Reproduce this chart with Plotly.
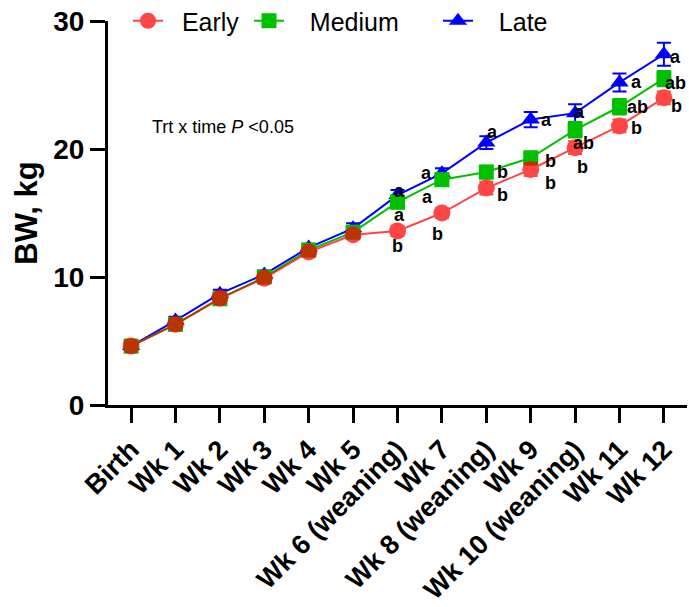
import plotly.graph_objects as go

categories = ["Birth", "Wk 1", "Wk 2", "Wk 3", "Wk 4", "Wk 5", "Wk 6 (weaning)", "Wk 7",
              "Wk 8 (weaning)", "Wk 9", "Wk 10 (weaning)", "Wk 11", "Wk 12"]

early = [4.6, 6.3, 8.35, 9.9, 11.95, 13.3, 13.6, 15.0, 16.95, 18.4, 20.1, 21.8, 24.0]
medium = [4.6, 6.3, 8.3, 10.0, 12.1, 13.5, 15.85, 17.6, 18.2, 19.3, 21.5, 23.3, 25.5]
late = [4.6, 6.6, 8.7, 10.2, 12.3, 13.8, 16.4, 18.1, 20.5, 22.3, 22.8, 25.2, 27.4]

early_se = [0.2, 0.3, 0.3, 0.3, 0.3, 0.3, 0.4, 0.4, 0.5, 0.5, 0.5, 0.5, 0.5]
medium_se = [0.2, 0.3, 0.3, 0.3, 0.3, 0.4, 0.5, 0.5, 0.5, 0.5, 0.6, 0.6, 0.6]
late_se = [0.2, 0.3, 0.3, 0.3, 0.3, 0.4, 0.4, 0.4, 0.5, 0.6, 0.7, 0.7, 0.9]

# significance letters (index -> letter)
early_letters = {6: "b", 7: "b", 8: "b", 9: "b", 10: "b", 11: "b", 12: "b"}
medium_letters = {6: "a", 7: "a", 8: "b", 9: "b", 10: "ab", 11: "ab", 12: "ab"}
late_letters = {6: "a", 7: "a", 8: "a", 9: "a", 10: "a", 11: "a", 12: "a"}

# pixel offsets of letters relative to their marker (dx right, dy down)
early_off = {6: (0, 15), 7: (-4, 21), 8: (16, 7), 9: (20, 14), 10: (7, 19), 11: (17, 2), 12: (13, 8)}
medium_off = {6: (2, 13), 7: (-14, 17), 8: (16, 0), 9: (20, 3), 10: (8, 13), 11: (18, 0), 12: (12, 4)}
late_off = {6: (2, -4), 7: (-15, 0), 8: (6, -11), 9: (16, 0), 10: (4, -1), 11: (17, 0), 12: (12, 3)}

FONT = "Liberation Sans, Arial, sans-serif"
NB = "\u00a0"
x = list(range(len(categories)))

fig = go.Figure()

def add(name, y, se, color, symbol, size, legend, opacity=1.0):
    fig.add_trace(go.Scatter(
        x=x, y=y, name=name, mode="lines+markers",
        line=dict(color=color, width=2),
        marker=dict(color=color, symbol=symbol, size=size, line=dict(width=0)),
        error_y=dict(type="data", array=se, color=color, thickness=2, width=7),
        opacity=opacity, legend=legend, showlegend=True,
    ))

add(NB * 3 + "Late", late, late_se, "#0000FF", "triangle-up", 16, "legend3")
add(NB * 3 + "Medium", medium, medium_se, "#00C000", "square", 15, "legend2")
add(NB * 2 + "Early", early, early_se, "#FF0000", "circle", 17, "legend", opacity=0.72)

annotations = []
for letters, off, vals in [(early_letters, early_off, early),
                           (medium_letters, medium_off, medium),
                           (late_letters, late_off, late)]:
    for i, t in letters.items():
        dx, dy = off[i]
        annotations.append(dict(x=i, y=vals[i], xref="x", yref="y", text=t, showarrow=False,
                                xshift=dx, yshift=-dy,
                                font=dict(family=FONT, size=18, color="black", weight="bold")))

annotations.append(dict(x=(150 - 108) / 579, y=(405 - 127) / 384, xref="paper", yref="paper",
                        xanchor="left", yanchor="middle",
                        text="Trt x time <i>P</i> <0.05", showarrow=False,
                        font=dict(family=FONT, size=18, color="black")))

PL, PW, PT, PH = 108, 579, 21, 384
W, H = 689, 607

def lx(px):
    return (px - PL) / PW

legend_common = dict(orientation="h", yanchor="middle", y=1.0, xanchor="left",
                     font=dict(family=FONT, size=25, color="black"),
                     bgcolor="rgba(0,0,0,0)", borderwidth=0)

fig.update_layout(
    width=W, height=H,
    showlegend=True,
    margin=dict(l=PL, r=W - PL - PW, t=PT, b=H - PT - PH, autoexpand=False),
    plot_bgcolor="white", paper_bgcolor="white",
    annotations=annotations,
    legend=dict(x=lx(128), **legend_common),
    legend2=dict(x=lx(249), **legend_common),
    legend3=dict(x=lx(438), **legend_common),
    xaxis=dict(
        range=[-0.52, 12.52], tickmode="array", tickvals=x, ticktext=categories,
        tickangle=-45, ticks="outside", ticklen=15, tickwidth=3, tickcolor="black",
        showline=True, linecolor="black", linewidth=3, showgrid=False, zeroline=False,
        automargin=False, ticklabeloverflow="allow",
        tickfont=dict(family=FONT, size=27, color="black", weight="bold"),
    ),
    yaxis=dict(
        range=[0, 30], tickvals=[0, 10, 20, 30], ticks="outside", ticklen=15, tickwidth=3,
        tickcolor="black", showline=True, linecolor="black", linewidth=3, showgrid=False,
        zeroline=False, automargin=False, ticklabeloverflow="allow",
        tickfont=dict(family=FONT, size=28, color="black", weight="bold"),
        title=dict(text="BW, kg", standoff=7,
                   font=dict(family=FONT, size=31, color="black", weight="bold")),
    ),
)

fig.write_html("out.html", config={"displayModeBar": False},
               post_script="document.body.style.margin='0px';")
